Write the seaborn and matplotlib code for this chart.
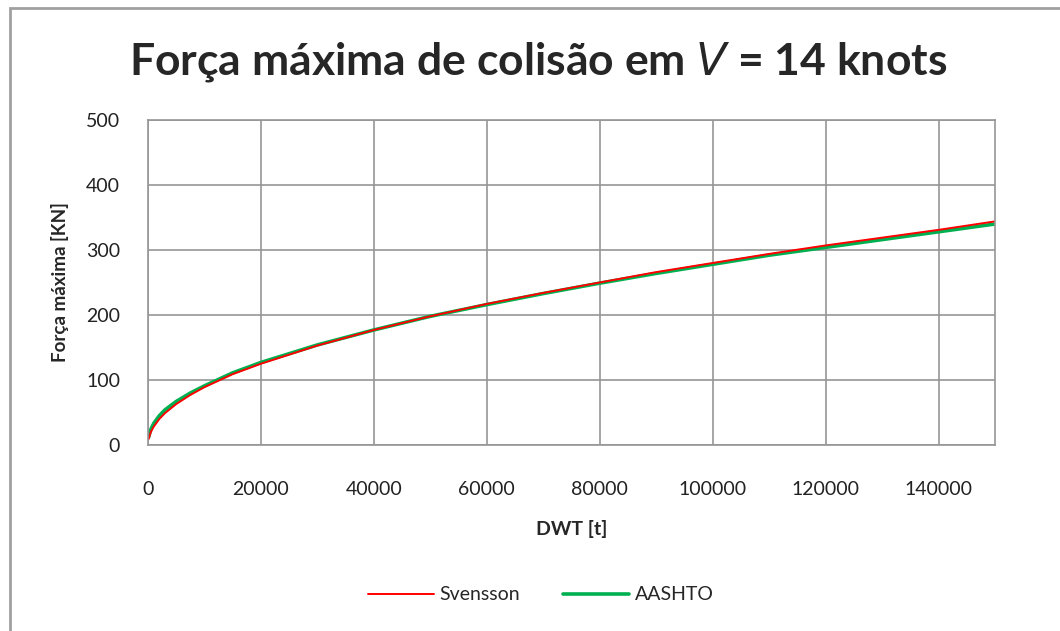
import matplotlib
matplotlib.use("Agg")
import matplotlib.pyplot as plt
import seaborn as sns
import pandas as pd
from matplotlib.lines import Line2D

dwt = [100, 500, 1000, 2000, 3000, 5000, 7500, 10000, 15000, 20000, 30000, 40000,
       50000, 60000, 70000, 80000, 90000, 100000, 110000, 120000, 130000, 140000, 150000]
svensson = [9, 20, 28, 40, 49, 63, 77, 89, 109, 125, 153, 177,
            198, 217, 234, 250, 266, 280, 294, 307, 319, 331, 344]
aashto = [12, 24, 33, 45, 54, 67, 80, 91, 111, 127, 154, 177,
          198, 216, 233, 249, 264, 278, 292, 304, 316, 328, 340]
series_names = ["Svensson", "AASHTO"]
series_colors = ["#ff0000", "#00b050"]
x_ticks = [0, 20000, 40000, 60000, 80000, 100000, 120000, 140000]
y_ticks = [0, 100, 200, 300, 400, 500]

sns.set_style("white")
plt.rcParams['font.family'] = ['Lato', 'DejaVu Sans']

df = pd.DataFrame({"DWT": dwt * 2,
                   "F": svensson + aashto,
                   "serie": [series_names[0]] * len(dwt) + [series_names[1]] * len(dwt)})

fig = plt.figure(figsize=(10.6, 6.31), dpi=100)
ax = fig.add_axes([148/1060, 1 - 445/631, (995-148)/1060, (445-120)/631])

sns.lineplot(data=df[df.serie == "AASHTO"], x="DWT", y="F", color=series_colors[1],
             lw=2.6, ax=ax, legend=False)
sns.lineplot(data=df[df.serie == "Svensson"], x="DWT", y="F", color=series_colors[0],
             lw=1.4, ax=ax, legend=False)

ax.set_xlim(0, 150000)
ax.set_ylim(0, 500)
ax.set_xticks(x_ticks)
ax.set_yticks(y_ticks)
ax.set_xticklabels([str(t) for t in x_ticks], fontsize=14)
ax.set_yticklabels([str(t) for t in y_ticks], fontsize=14)
ax.grid(True, color="#969696", lw=1.2)
for s in ax.spines.values():
    s.set_color("#969696")
    s.set_linewidth(1.2)
ax.tick_params(axis="x", length=4, color="#969696", pad=22, labelcolor="#222222")
ax.tick_params(axis="y", length=4, color="#969696", pad=16, labelcolor="#222222")
ax.set_xlabel("DWT [t]", fontsize=14, fontweight="bold", labelpad=16)
ax.set_ylabel("Força máxima [KN]", fontsize=13.5, fontweight="bold", labelpad=12)

fig.text(0.508, 1 - 62/631, r"Força máxima de colisão em $\mathit{V}$ = 14 knots",
         ha="center", va="center", fontsize=32, fontweight="bold")

handles = [Line2D([0], [0], color=series_colors[0], lw=1.4),
           Line2D([0], [0], color=series_colors[1], lw=2.6)]
fig.legend(handles, series_names, loc="center", bbox_to_anchor=(0.51, 1 - 595/631),
           ncol=2, frameon=False, fontsize=14, handlelength=3.4, columnspacing=2.2,
           handletextpad=0.3)

fig.add_artist(plt.Rectangle((10/1060, -0.1), 1.2, 1 - 8/631 + 0.1, fill=False,
                             edgecolor="#a0a0a0", lw=2, transform=fig.transFigure))

fig.savefig("out.png", dpi=100)
